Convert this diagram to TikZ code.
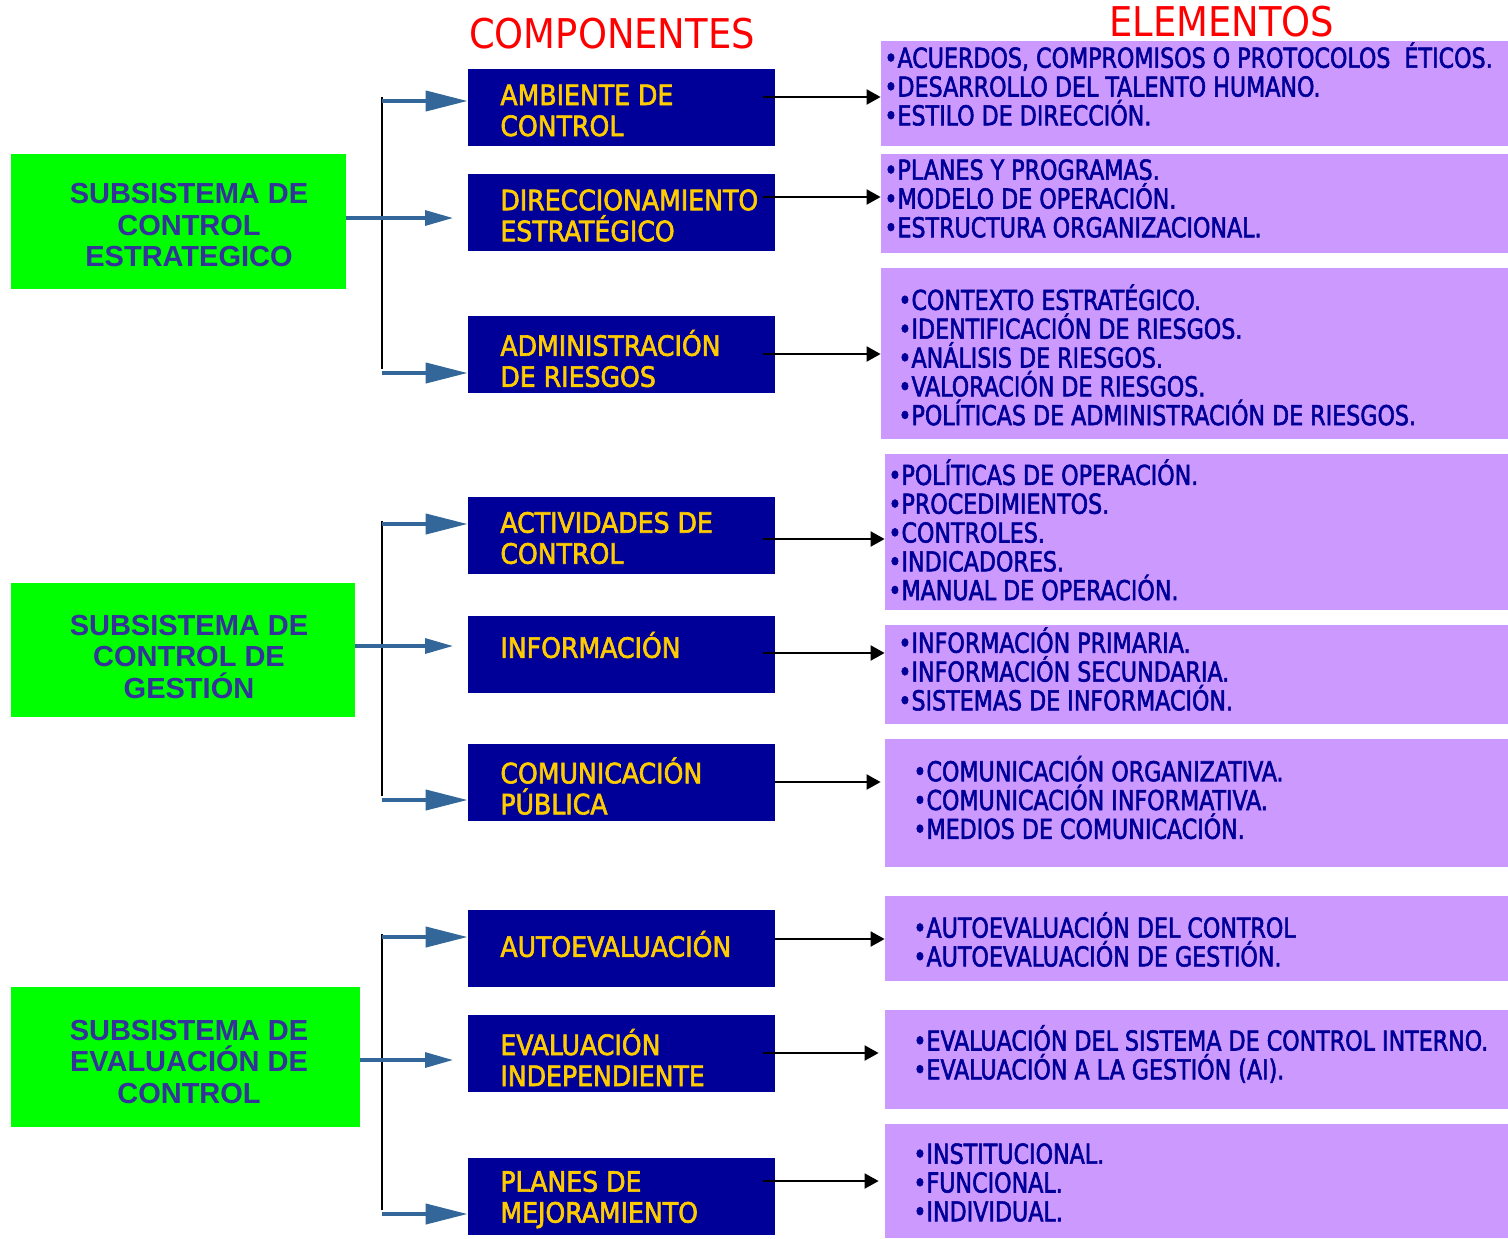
\documentclass[tikz,border=0pt]{standalone}
\usepackage{fontspec}
\setmainfont{DejaVu Sans Condensed}
\newfontfamily\arialf{Liberation Sans}
\newfontfamily\condf[FakeStretch=0.9, FakeBold=2]{DejaVu Sans Condensed}
\newfontfamily\compf[FakeBold=2.2]{DejaVu Sans Condensed}
\usetikzlibrary{arrows.meta}
\definecolor{ggreen}{HTML}{00FF00}
\definecolor{navybox}{HTML}{000099}
\definecolor{ylw}{HTML}{FFCC00}
\definecolor{lilac}{HTML}{CC99FF}
\definecolor{subtxt}{HTML}{333399}
\definecolor{eltxt}{HTML}{000099}
\definecolor{steel}{HTML}{336699}
\definecolor{hdrred}{HTML}{FF0000}
\tikzset{
  subbox/.style={fill=ggreen, draw=none, inner sep=0},
  subtext/.style={font=\arialf\bfseries\fontsize{14.5pt}{15.75pt}\selectfont, text=subtxt, align=center, inner sep=0},
  compbox/.style={fill=navybox, draw=none, inner sep=0, minimum width=153.5pt, minimum height=38.5pt},
  comptext/.style={font=\compf\fontsize{14pt}{15.5pt}\selectfont, text=ylw, align=left, inner sep=0, anchor=west},
  elbox/.style={fill=lilac, draw=none, inner sep=0},
  eltext/.style={font=\condf\fontsize{13.7pt}{14.4pt}\selectfont, text=eltxt, align=left, inner sep=0, anchor=west},
  hdr/.style={font=\fontsize{20.5pt}{22pt}\selectfont, text=hdrred, inner sep=0},
  bluearrow/.style={draw=steel, line width=2pt, -{Triangle[length=21pt,width=10pt]}},
  bluemid/.style={draw=steel, line width=1.6pt, -{Triangle[length=14pt,width=7.5pt]}},
  vline/.style={draw=black, line width=0.8pt},
  blkarrow/.style={draw=black, line width=1pt, -{Triangle[length=7pt,width=7.5pt]}}
}
\begin{document}
\begin{tikzpicture}[x=0.5pt, y=-0.5pt]
\useasboundingbox (0,0) rectangle (1508,1238);

% headers
\node[hdr] (hc) at (612,34) {COMPONENTES};
\node[hdr] (he) at (1222,22) {ELEMENTOS};

% subsystems
\node[subbox, minimum width=167.5pt, minimum height=67.5pt] (g1) at (178.5,221.5) {};
\node[subtext] (g1t) at (189,225.5) {SUBSISTEMA DE\\CONTROL\\ESTRATEGICO};
\node[subbox, minimum width=172pt, minimum height=67pt] (g2) at (183,650) {};
\node[subtext] (g2t) at (189,656.5) {SUBSISTEMA DE\\CONTROL DE\\GESTIÓN};
\node[subbox, minimum width=174.5pt, minimum height=70pt] (g3) at (185.5,1057) {};
\node[subtext] (g3t) at (189,1061.5) {SUBSISTEMA DE\\EVALUACIÓN DE\\CONTROL};

% components
\node[compbox] (c1) at (621.5,107.5) {};
\node[comptext] (c1t) at (500,110.5) {AMBIENTE DE\\CONTROL};
\node[compbox] (c2) at (621.5,212.5) {};
\node[comptext] (c2t) at (500,215.5) {DIRECCIONAMIENTO\\ESTRATÉGICO};
\node[compbox] (c3) at (621.5,354.5) {};
\node[comptext] (c3t) at (500,358.5) {ADMINISTRACIÓN\\DE RIESGOS};
\node[compbox] (c4) at (621.5,535.5) {};
\node[comptext] (c4t) at (500,538) {ACTIVIDADES DE\\CONTROL};
\node[compbox] (c5) at (621.5,654.5) {};
\node[comptext] (c5t) at (500,645) {INFORMACIÓN};
\node[compbox] (c6) at (621.5,782.5) {};
\node[comptext] (c6t) at (500,786) {COMUNICACIÓN\\PÚBLICA};
\node[compbox] (c7) at (621.5,948.5) {};
\node[comptext] (c7t) at (500,944) {AUTOEVALUACIÓN};
\node[compbox] (c8) at (621.5,1053.5) {};
\node[comptext] (c8t) at (500,1057.5) {EVALUACIÓN\\INDEPENDIENTE};
\node[compbox] (c9) at (621.5,1196.5) {};
\node[comptext] (c9t) at (500,1199.5) {PLANES DE\\MEJORAMIENTO};

% element boxes
\node[elbox, minimum width=313.5pt, minimum height=52.5pt] (p1) at (1194.5,93.5) {};
\node[elbox, minimum width=313.5pt, minimum height=49.5pt] (p2) at (1194.5,203.5) {};
\node[elbox, minimum width=313.5pt, minimum height=85.5pt] (p3) at (1194.5,353.5) {};
\node[elbox, minimum width=311.5pt, minimum height=78pt] (p4) at (1196.5,532) {};
\node[elbox, minimum width=311.5pt, minimum height=49.5pt] (p5) at (1196.5,674.5) {};
\node[elbox, minimum width=311.5pt, minimum height=64pt] (p6) at (1196.5,803) {};
\node[elbox, minimum width=311.5pt, minimum height=42.5pt] (p7) at (1196.5,938.5) {};
\node[elbox, minimum width=311.5pt, minimum height=49.5pt] (p8) at (1196.5,1059.5) {};
\node[elbox, minimum width=311.5pt, minimum height=57pt] (p9) at (1196.5,1181) {};

% element texts
\node[eltext] (e1) at (884,84) {•ACUERDOS, COMPROMISOS O PROTOCOLOS\ \ ÉTICOS.\\•DESARROLLO DEL TALENTO HUMANO.\\•ESTILO DE DIRECCIÓN.};
\node[eltext] (e2) at (884,198.5) {•PLANES Y PROGRAMAS.\\•MODELO DE OPERACIÓN.\\•ESTRUCTURA ORGANIZACIONAL.};
\node[eltext] (e3) at (898,355) {•CONTEXTO ESTRATÉGICO.\\•IDENTIFICACIÓN DE RIESGOS.\\•ANÁLISIS DE RIESGOS.\\•VALORACIÓN DE RIESGOS.\\•POLÍTICAS DE ADMINISTRACIÓN DE RIESGOS.};
\node[eltext] (e4) at (888,530) {•POLÍTICAS DE OPERACIÓN.\\•PROCEDIMIENTOS.\\•CONTROLES.\\•INDICADORES.\\•MANUAL DE OPERACIÓN.};
\node[eltext] (e5) at (898,669) {•INFORMACIÓN PRIMARIA.\\•INFORMACIÓN SECUNDARIA.\\•SISTEMAS DE INFORMACIÓN.};
\node[eltext] (e6) at (913,797.5) {•COMUNICACIÓN ORGANIZATIVA.\\•COMUNICACIÓN INFORMATIVA.\\•MEDIOS DE COMUNICACIÓN.};
\node[eltext] (e7) at (913,939.5) {•AUTOEVALUACIÓN DEL CONTROL\\•AUTOEVALUACIÓN DE GESTIÓN.};
\node[eltext] (e8) at (913,1054) {•EVALUACIÓN DEL SISTEMA DE CONTROL INTERNO.\\•EVALUACIÓN A LA GESTIÓN (AI).};
\node[eltext] (e9) at (913,1182.5) {•INSTITUCIONAL.\\•FUNCIONAL.\\•INDIVIDUAL.};

% bracket coordinates
\coordinate (v1a) at (382,97);  \coordinate (v1b) at (382,369);
\coordinate (v2a) at (382,521); \coordinate (v2b) at (382,796);
\coordinate (v3a) at (382,934); \coordinate (v3b) at (382,1210);
\coordinate (m1) at (453,218);
\coordinate (m2) at (453,646);
\coordinate (m3) at (453,1060);

% group 1
\draw[vline] (v1a) -- (v1b);
\draw[bluearrow] (v1a |- 0,101) -- (c1.west |- 0,101);
\draw[bluearrow] (v1b |- 0,373) -- (c3.west |- 0,373);
\draw[bluemid] (g1.east |- m1) -- (m1);
% group 2
\draw[vline] (v2a) -- (v2b);
\draw[bluearrow] (v2a |- 0,524) -- (c4.west |- 0,524);
\draw[bluearrow] (v2b |- 0,800) -- (c6.west |- 0,800);
\draw[bluemid] (g2.east |- m2) -- (m2);
% group 3
\draw[vline] (v3a) -- (v3b);
\draw[bluearrow] (v3a |- 0,937) -- (c7.west |- 0,937);
\draw[bluearrow] (v3b |- 0,1214) -- (c9.west |- 0,1214);
\draw[bluemid] (g3.east |- m3) -- (m3);

% component -> element arrows
\draw[blkarrow, shorten <=-6pt] (c1.east |- 0,97) -- (p1.west |- 0,97);
\draw[blkarrow, shorten <=-6pt] (c2.east |- 0,197) -- (p2.west |- 0,197);
\draw[blkarrow, shorten <=-6pt] (c3.east |- 0,354) -- (p3.west |- 0,354);
\draw[blkarrow, shorten <=-6pt] (c4.east |- 0,539) -- (p4.west |- 0,539);
\draw[blkarrow, shorten <=-6pt] (c5.east |- 0,653) -- (p5.west |- 0,653);
\draw[blkarrow] (c6.east |- 0,782) -- ([xshift=-2pt]p6.west |- 0,782);
\draw[blkarrow] (c7.east |- 0,939) -- (p7.west |- 0,939);
\draw[blkarrow, shorten <=-6pt] (c8.east |- 0,1053) -- ([xshift=-3pt]p8.west |- 0,1053);
\draw[blkarrow, shorten <=-6pt] (c9.east |- 0,1181) -- ([xshift=-3pt]p9.west |- 0,1181);
\end{tikzpicture}
\end{document}
